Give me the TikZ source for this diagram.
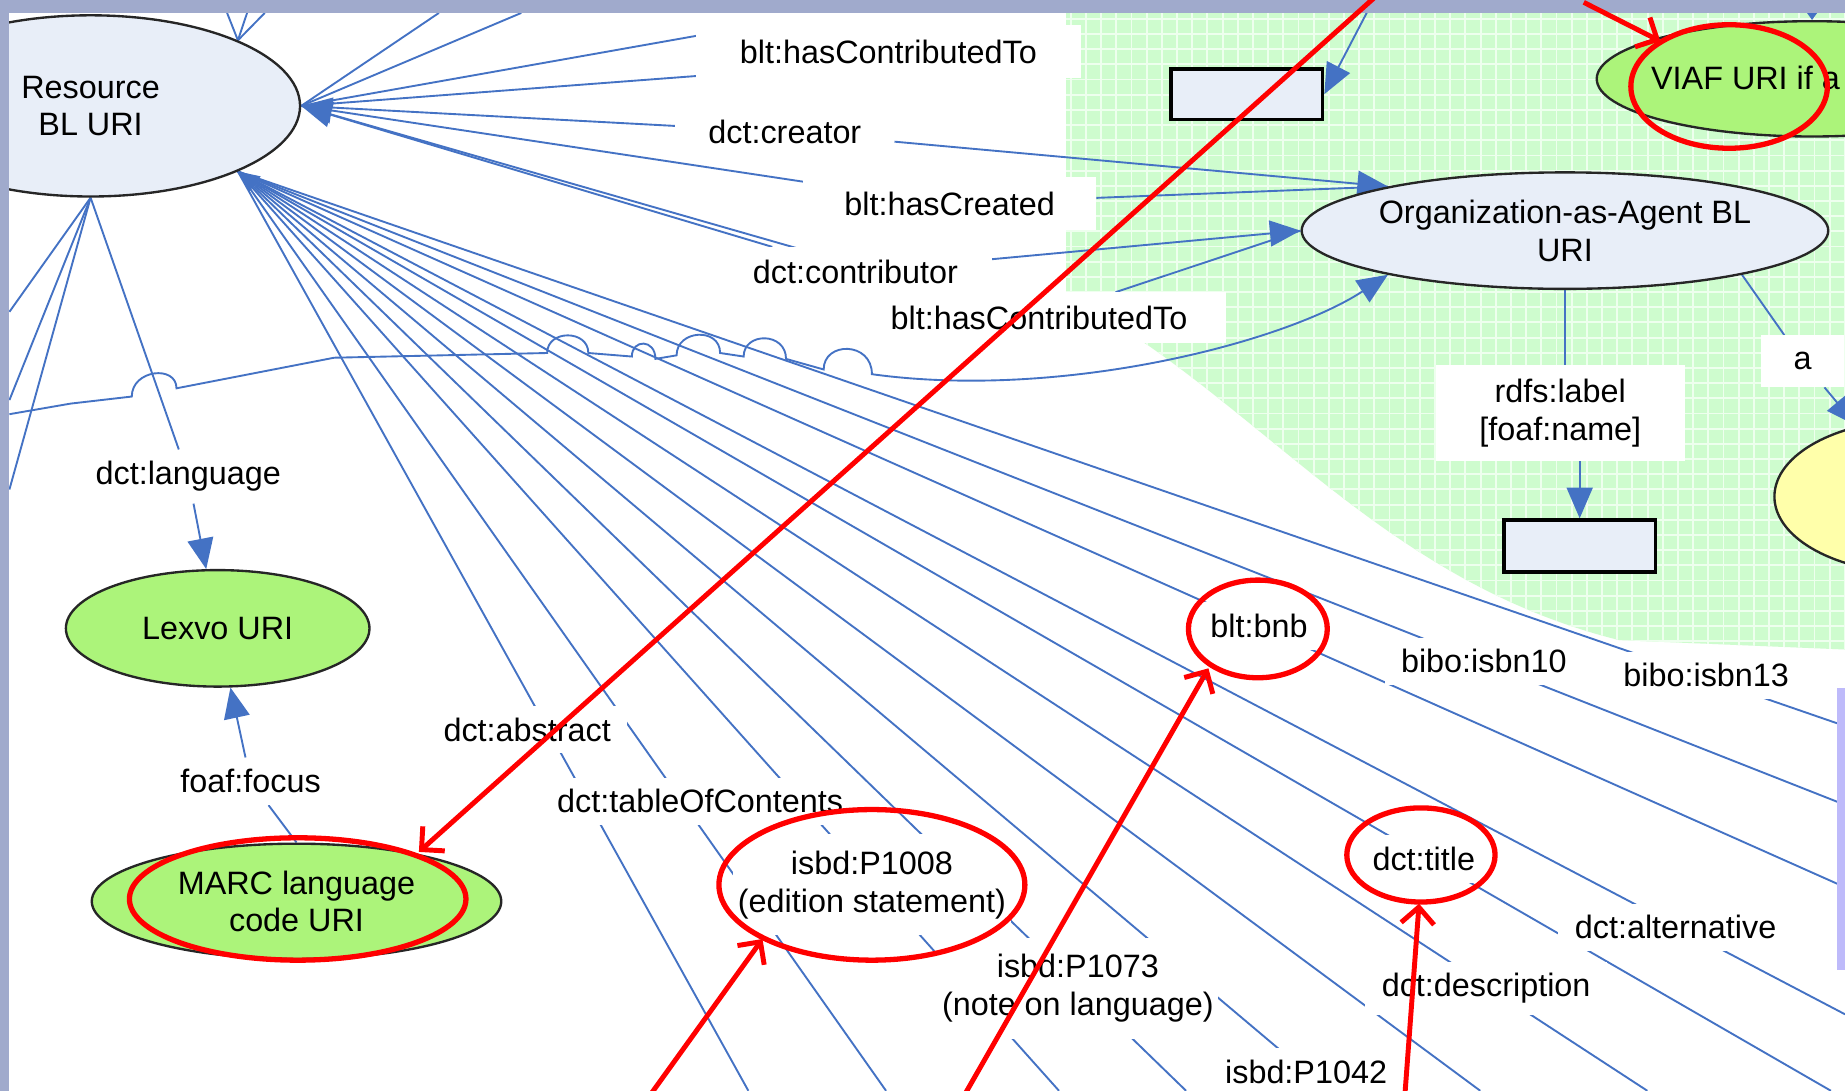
\documentclass[tikz,border=0pt]{standalone}
\usepackage{fontspec}
\setmainfont{Liberation Sans}
\usetikzlibrary{arrows.meta,calc,shapes.geometric}
\definecolor{linkblue}{RGB}{68,114,196}
\definecolor{framegrey}{RGB}{160,170,204}
\definecolor{nodeblue}{RGB}{232,238,248}
\definecolor{nodegreen}{RGB}{172,244,122}
\definecolor{nodeyellow}{RGB}{255,255,170}
\definecolor{zonegreen}{RGB}{206,252,206}
\definecolor{zonegrid}{RGB}{238,255,238}
\definecolor{lavender}{RGB}{190,186,250}
\definecolor{markred}{RGB}{255,0,0}
\pgfdeclarelayer{bg}\pgfdeclarelayer{lines}\pgfdeclarelayer{fg}
\pgfsetlayers{bg,lines,main,fg}
\begin{document}
\begin{tikzpicture}[x=1pt,y=-1pt,
  every node/.style={font=\fontsize{27.5}{32}\selectfont},
  link/.style={draw=linkblue,line width=1.6pt},
  linkarrow/.style={link,-{Triangle[length=26pt,width=22pt]}},
  edgelabel/.style={fill=white,inner xsep=14pt,inner ysep=10pt,align=center},
  ent/.style={ellipse,draw=black!85,line width=2pt,fill=nodeblue,align=center,inner sep=0pt},
  lit/.style={ellipse,draw=black!85,line width=2pt,fill=nodegreen,align=center,inner sep=0pt},
  valbox/.style={draw=black,line width=3pt,fill=nodeblue,inner sep=0pt},
  redring/.style={ellipse,draw=markred,line width=4.5pt,inner sep=0pt},
  redarrow/.style={draw=markred,line width=4.2pt,-{Straight Barb[length=14pt,width=28pt]}},
]
\useasboundingbox (0,0) rectangle (1568,927);

% ---------- background ----------
\begin{pgfonlayer}{bg}
\fill[white] (0,0) rectangle (1568,927);
\fill[zonegreen] (906,11) -- (1568,11) -- (1568,552) -- (1376,544)
   .. controls (1200,500) and (1100,380) .. (975,293) -- (906,250) -- cycle;
\begin{scope}
\clip (906,11) -- (1568,11) -- (1568,552) -- (1376,544)
   .. controls (1200,500) and (1100,380) .. (975,293) -- (906,250) -- cycle;
\foreach \gx in {910,922.9,...,1570} \draw[zonegrid,line width=1.6pt] (\gx,8) -- (\gx,560);
\foreach \gy in {16,28.9,...,560} \draw[zonegrid,line width=1.6pt] (900,\gy) -- (1570,\gy);
\end{scope}
\end{pgfonlayer}

% ---------- shape nodes ----------
\node[ent,minimum width=356pt,minimum height=154pt] (res) at (77,90) {Resource\\BL URI};
\node[ent,minimum width=416pt,minimum height=99pt] (org) at (1330,196) {Organization-as-Agent BL\\URI};
\node[lit,minimum width=366pt,minimum height=98pt] (viaf) at (1540,67) {};
\node[anchor=west,inner sep=0pt] (viaftext) at (1403,66) {VIAF URI if a};
\node[lit,minimum width=258pt,minimum height=99pt] (lexvo) at (185,534) {Lexvo URI};
\node[lit,minimum width=348pt,minimum height=98pt] (marc) at (252,766) {MARC language\\code URI};
\node[valbox,minimum width=129pt,minimum height=43pt] (box1) at (1059.5,80) {};
\node[valbox,minimum width=129pt,minimum height=44pt] (box2) at (1342.5,464) {};
\node[ellipse,draw=black!85,line width=2pt,fill=nodeyellow,minimum width=240pt,minimum height=130pt] (person) at (1628,422) {};

% ---------- edge labels ----------
\node[edgelabel,minimum width=327pt,minimum height=45pt] (lCT1) at (755,44) {blt:hasContributedTo};
\node[edgelabel,minimum width=186pt,minimum height=42pt] (lCreator) at (667,112) {dct:creator};
\node[edgelabel,minimum width=249pt,minimum height=45pt] (lCreated) at (807,173) {blt:hasCreated};
\node[edgelabel,minimum width=232pt,minimum height=42pt] (lContrib) at (727,231) {dct:contributor};
\node[edgelabel,minimum width=317pt,minimum height=43pt] (lCT2) at (883,270) {blt:hasContributedTo};
\node[edgelabel,minimum width=212pt,minimum height=82pt] (lRdfs) at (1326,351) {rdfs:label\\{[foaf:name]}};
\node[edgelabel,minimum width=70pt,minimum height=44pt] (lA) at (1532,307) {a};
\node[edgelabel] (lLang) at (160,405) {dct:language};
\node[edgelabel] (lFocus) at (213,664) {foaf:focus};
\node[edgelabel] (lAbstract) at (448,620) {dct:abstract};
\node[edgelabel] (lToc) at (595,681) {dct:tableOfContents};
\node[edgelabel,inner xsep=4pt,inner ysep=14pt] (lP1008) at (741,752) {isbd:P1008\\(edition statement)};
\node[edgelabel,inner xsep=4pt,inner ysep=14pt] (lP1073) at (916,840) {isbd:P1073\\(note on language)};
\node[edgelabel] (lP1042) at (1110,911) {isbd:P1042};
\node[edgelabel] (lBnb) at (1070,532) {blt:bnb};
\node[edgelabel] (lIsbn10) at (1261,562) {bibo:isbn10};
\node[edgelabel] (lIsbn13) at (1450,574) {bibo:isbn13};
\node[edgelabel] (lTitle) at (1210,730) {dct:title};
\node[edgelabel] (lAlt) at (1424,788) {dct:alternative};
\node[edgelabel] (lDesc) at (1263,840) {dct:description};

% ---------- anchor coordinates ----------
\coordinate (R) at (res.east);
\coordinate (O) at (res.-24);
\coordinate (NE) at (res.24);
\coordinate (B) at (res.south);
\coordinate (U) at (org.166.6);
\coordinate (M) at (org.west);
\coordinate (L) at (org.194.6);
% free ends
\coordinate (fAbs) at (636,927);   \coordinate (fToc) at (753,927);
\coordinate (fP1008) at (900,927); \coordinate (fP1073) at (1008,927);
\coordinate (fP1042) at (1129,927);\coordinate (fMid) at (1258,927);
\coordinate (fDesc) at (1400,927); \coordinate (fTitle) at (1556,927);
\coordinate (fAlt) at (1568,862);  \coordinate (fBnb) at (1568,754);
\coordinate (fIsbn10) at (1568,684); \coordinate (fIsbn13) at (1568,617);
\coordinate (tR1) at (373,11); \coordinate (tR2) at (443,11);
\coordinate (cCT1a) at (600,29); \coordinate (cCT1b) at (626,62);
\coordinate (tN1) at (193,11); \coordinate (tN2) at (210,11); \coordinate (tN3) at (225,11);
\coordinate (eB1) at (8,265); \coordinate (eB2) at (8,340); \coordinate (eB3) at (8,416);
\coordinate (W0) at (8,352);
\coordinate (tB1) at (1162,10);
\coordinate (tV1) at (1540,0);

% ---------- connectors ----------
\begin{pgfonlayer}{lines}
% fan from the lower right of the resource
\draw[link] (O) -- (fAbs);
\draw[link] (O) -- (fToc);
\draw[link] (O) -- (fP1008);
\draw[link] (O) -- (fP1073);
\draw[link] (O) -- (fP1042);
\draw[link,-{Triangle[length=18pt,width=16pt]}] (fMid) -- (O);
\draw[link] (O) -- (fDesc);
\draw[link] (O) -- (fTitle);
\draw[link] (O) -- (fAlt);
\draw[link] (O) -- (fBnb);
\draw[link] (O) -- (fIsbn10);
\draw[link] (O) -- (fIsbn13);
% from the right of the resource
\draw[link] (R) -- (tR1);
\draw[link] (R) -- (tR2);
\draw[link] (R) -- (cCT1a);
\draw[link] (R) -- (cCT1b);
\draw[linkarrow] (R) -- (lCreator) -- (U);
\draw[linkarrow] (U) -- (lCreated) -- (R);
\draw[linkarrow] (R) -- (lContrib) -- (M);
\draw[linkarrow] (M) -- (lCT2) -- (R);
% top of the resource
\draw[link] (NE) -- (tN1);
\draw[link] (NE) -- (tN2);
\draw[link] (NE) -- (tN3);
% bottom of the resource
\draw[link] (B) -- (eB1);
\draw[link] (B) -- (eB2);
\draw[link] (B) -- (eB3);
\draw[linkarrow] (B) -- (lLang) -- (lexvo);
\draw[linkarrow] (marc.north) -- (lFocus) -- (lexvo);
% long connector with line jumps
\draw[linkarrow] (W0) -- (60,343) -- (112,337)
  .. controls (112,314) and (150,310) .. (150,330) -- (284,304) -- (465,300)
  .. controls (465,280) and (500,280) .. (500,300) -- (537,303)
  .. controls (537,288) and (557,288) .. (557,305) -- (575,302)
  .. controls (575,280) and (612,278) .. (612,300) -- (632,303)
  .. controls (632,282) and (668,282) .. (668,305) -- (700,314)
  .. controls (700,290) and (741,290) .. (741,318)
  .. controls (900,340) and (1090,292) .. (L);
% organisation side
\draw[link] (org.south) -- (org.south |- lRdfs.north);
\draw[linkarrow] (box2.north |- lRdfs.south) -- (box2.north);
\draw[link] (org.-14.6) -- (lA);
\draw[linkarrow] (lA) -- (person);
\draw[linkarrow] (tB1) -- (box1.east);
\draw[link,-{Triangle[length=10pt,width=14pt]}] (tV1) -- (viaf.north);
\end{pgfonlayer}

% ---------- frame and annotations ----------
\begin{pgfonlayer}{fg}
\fill[framegrey] (0,0) rectangle (1568,11.3);
\fill[framegrey] (0,0) rectangle (7.4,927);
\fill[lavender] (1561,585) rectangle (1568,824);
\node[redring,minimum width=167pt,minimum height=105pt] (rViaf) at (1469.5,73.5) {};
\node[redring,minimum width=286pt,minimum height=104pt] (rMarc) at (253,764) {};
\node[redring,minimum width=260pt,minimum height=128pt] (rP1008) at (741,752) {};
\node[redring,minimum width=118pt,minimum height=83pt] (rBnb) at (1069,534.5) {};
\node[redring,minimum width=126pt,minimum height=80pt] (rTitle) at (1207.6,726.6) {};
\coordinate (aS1) at (1168,-2);  \coordinate (aT1) at (356,724);
\coordinate (aS2) at (1346,2);   \coordinate (aT2) at (1411,35);
\coordinate (aS3) at (553,930);  \coordinate (aT3) at (648,798);
\coordinate (aS4) at (820,930);  \coordinate (aT4) at (1027,568);
\coordinate (aS5) at (1194,930); \coordinate (aT5) at (1206,768);
\draw[redarrow] (aS1) -- (aT1);
\draw[redarrow] (aS2) -- (aT2);
\draw[redarrow] (aS3) -- (aT3);
\draw[redarrow] (aS4) -- (aT4);
\draw[redarrow] (aS5) -- (aT5);
\end{pgfonlayer}
\end{tikzpicture}
\end{document}
